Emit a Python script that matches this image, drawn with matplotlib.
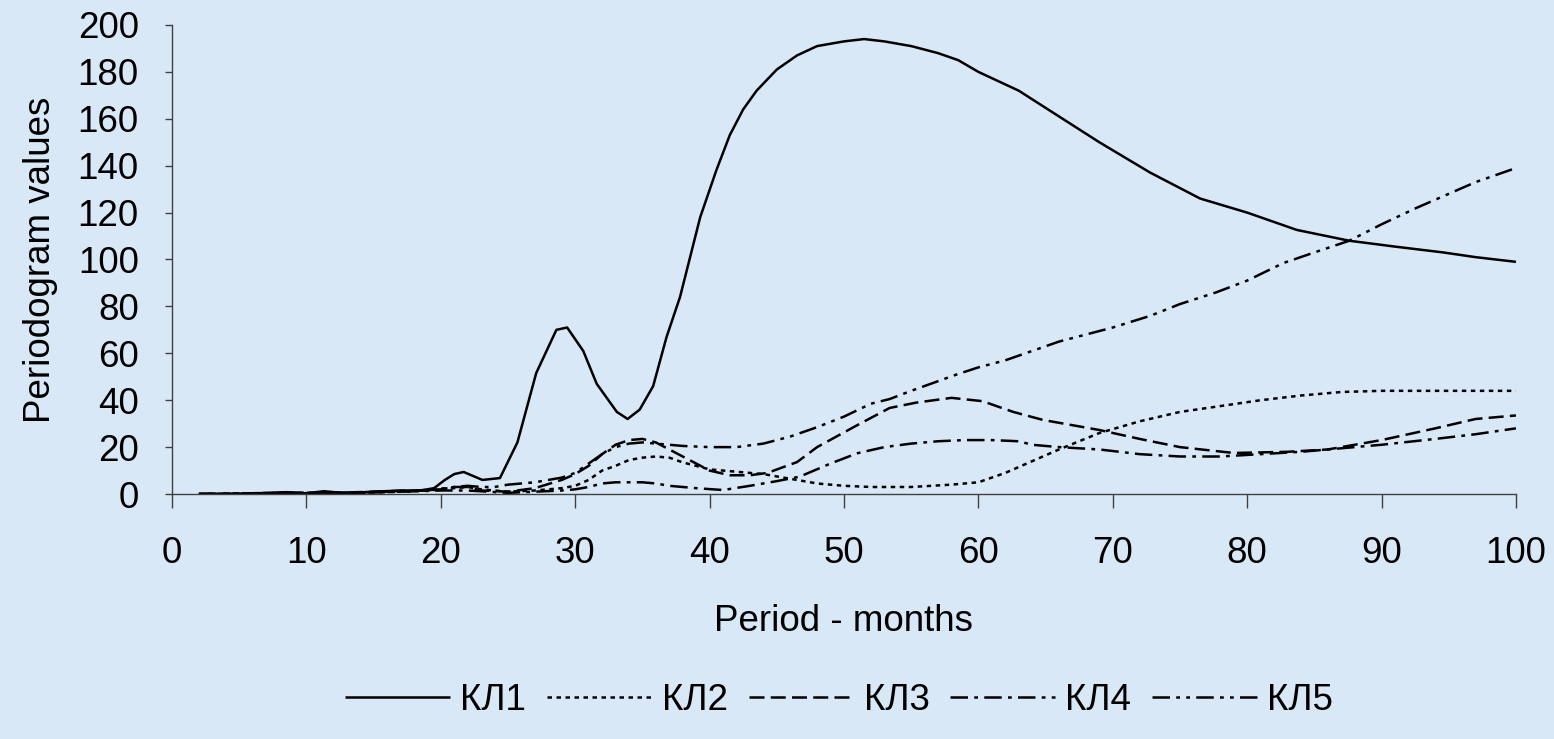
import matplotlib
matplotlib.use("Agg")
import matplotlib.pyplot as plt

# --------------------------------------------------------------------------- #
# Data
# --------------------------------------------------------------------------- #

kl1_x = [2, 5, 8.5, 10, 11.3, 13, 15, 17, 18.5, 19.5, 20.3, 21, 21.7, 23.1, 24.4,
         25.7, 27.1, 28.6, 29.4, 30.6, 31.6, 33.1, 33.9, 34.8, 35.8, 36.8, 37.8,
         39.3, 40.5, 41.5, 42.5, 43.5, 45, 46.5, 48, 50, 51.5, 53, 55, 57, 58.5,
         60, 63, 66, 69, 72.8, 76.5, 80, 83.7, 87.6, 91, 94.6, 97, 100]
kl1_y = [0, 0, 0.8, 0.3, 1.2, 0.3, 1, 1.5, 1.5, 2.5, 6, 8.5, 9.4, 6, 6.8,
         22, 51.6, 70, 71, 61, 47, 35, 32, 36, 46, 67, 84,
         118, 138, 153, 164, 172, 181, 187, 191, 193, 194, 193, 191, 188, 185,
         180, 172, 161, 150, 137, 126, 120, 112.6, 108, 105.5, 103, 101, 99]

kl2_x = [2, 8, 11, 14, 17, 19, 20, 21, 22, 23, 25, 27, 29, 30, 31, 32, 33, 34,
         35, 36, 37, 38, 40, 42, 44, 46, 48, 50, 52, 55, 58, 60, 62, 64, 66, 69,
         72, 75, 78, 81, 84, 87, 90, 95, 100]
kl2_y = [0, 0.5, 0.5, 0.5, 1, 1.5, 2, 2.5, 3, 2, 1, 1.5, 2.5, 3.5, 6, 10, 12, 14.5,
         15.5, 16, 15.5, 13.5, 10.5, 9.5, 8.5, 6.5, 4.5, 3.5, 3, 3, 4, 5, 9, 14, 19, 26,
         31, 35, 37.5, 40, 42, 43.5, 44, 44, 44]

kl3_x = [2, 8, 12, 15, 18, 20, 21, 22, 23, 25, 27, 29, 30, 31, 32, 33, 34, 35,
         36, 38, 40, 41.5, 43, 44.3, 46.5, 48, 51, 53.4, 55.4, 58, 60.3, 62.6,
         64.8, 69, 72, 75, 79, 83, 86, 90, 94, 97, 100]
kl3_y = [0, 0.3, 0.5, 1, 1.5, 2, 3, 3, 1.5, 1, 2.5, 6, 8.5, 12, 17, 21, 23, 23.5,
         22, 16, 10, 8, 8, 9, 13.6, 20, 29.4, 36.7, 39, 41, 39.6, 35,
         31.6, 27.3, 23.5, 20, 17.5, 18, 19, 23, 28, 32, 33.5]

kl4_x = [2, 8, 12, 16, 20, 22, 25, 27, 29, 30, 31, 32, 33, 35, 36, 37, 39, 41,
         43, 45, 46.7, 49, 51, 53, 55, 57, 59, 61, 63, 64, 66, 69, 72, 75, 78,
         81, 84, 87, 90, 94, 97, 100]
kl4_y = [0, 0.3, 0.3, 0.8, 1.5, 1.5, 0.5, 1, 1.5, 2, 3, 4.5, 5, 5, 4.5, 3.5, 2.5, 1.7,
         3.5, 5.5, 7.4, 13, 17.4, 20, 21.5, 22.5, 23, 23, 22.5, 21, 20, 19, 17, 16, 16,
         17, 18, 19.5, 21, 23.5, 25.5, 28]

kl5_x = [2, 8, 12, 16, 19, 21, 22, 23, 24, 25, 27, 29, 30, 31, 32, 33, 34, 35,
         36, 38, 40, 42, 44, 46, 48, 50, 52, 53.4, 55, 58.4, 60, 62, 64, 66, 68,
         70, 72.8, 75, 77.7, 80, 82.7, 85, 87.6, 90, 92.6, 95, 97, 100]
kl5_y = [0, 0.5, 0.5, 1, 1.5, 3, 3.5, 3, 3, 4, 5, 7, 9, 13, 17, 20, 21.5, 22,
         21.5, 20.5, 20, 20, 21.5, 24.5, 28.5, 33, 38.5, 40.5, 44, 51, 54, 57, 61, 65, 68,
         71, 76, 81, 86, 91, 98.5, 103, 108, 115, 122, 128, 133, 139]

series_names = ["КЛ1", "КЛ2", "КЛ3", "КЛ4", "КЛ5"]
x_ticks = [0, 10, 20, 30, 40, 50, 60, 70, 80, 90, 100]
y_ticks = [0, 20, 40, 60, 80, 100, 120, 140, 160, 180, 200]

# --------------------------------------------------------------------------- #
# Styling
# --------------------------------------------------------------------------- #

BG = "#d9e8f7"
plt.rcParams["font.family"] = ["Liberation Sans", "DejaVu Sans"]

styles = [
    "-",
    (0, (1.8, 1.8)),
    (0, (6, 2.5)),
    (0, (7, 2.5, 1.5, 2.5)),
    (0, (7, 2.5, 1.5, 2.5, 1.5, 2.5)),
]

fig = plt.figure(figsize=(15.54, 7.39), dpi=100, facecolor=BG)
ax = fig.add_axes([0.1107, 0.3315, 0.8648, 0.6347])
ax.set_facecolor("none")

series = [(kl1_x, kl1_y), (kl2_x, kl2_y), (kl3_x, kl3_y), (kl4_x, kl4_y), (kl5_x, kl5_y)]
for (xs, ys), name, ls in zip(series, series_names, styles):
    ax.plot(xs, ys, color="black", linestyle=ls, linewidth=1.8, label=name,
            solid_capstyle="butt", dash_capstyle="butt")

ax.set_xlim(0, 100)
ax.set_ylim(0, 200)
ax.set_xticks(x_ticks)
ax.set_yticks(y_ticks)

for side in ("top", "right"):
    ax.spines[side].set_visible(False)
for side in ("left", "bottom"):
    ax.spines[side].set_color("#404040")
    ax.spines[side].set_linewidth(1.0)

ax.tick_params(axis="x", direction="out", length=10, width=1.0, color="#404040",
               labelsize=26.5, pad=20)
ax.tick_params(axis="y", direction="out", length=5, width=1.0, color="#404040",
               labelsize=26.5, pad=19)

ax.set_xlabel("Period - months", fontsize=26.5, labelpad=24)
ax.set_ylabel("Periodogram values", fontsize=26.5, labelpad=14)

leg = fig.legend(
    loc="center", bbox_to_anchor=(0.54, 0.052), ncol=5, frameon=False,
    fontsize=26.5, handlelength=2.85, handletextpad=0.27, columnspacing=0.57,
)

fig.savefig("out.png", dpi=100, facecolor=BG)
